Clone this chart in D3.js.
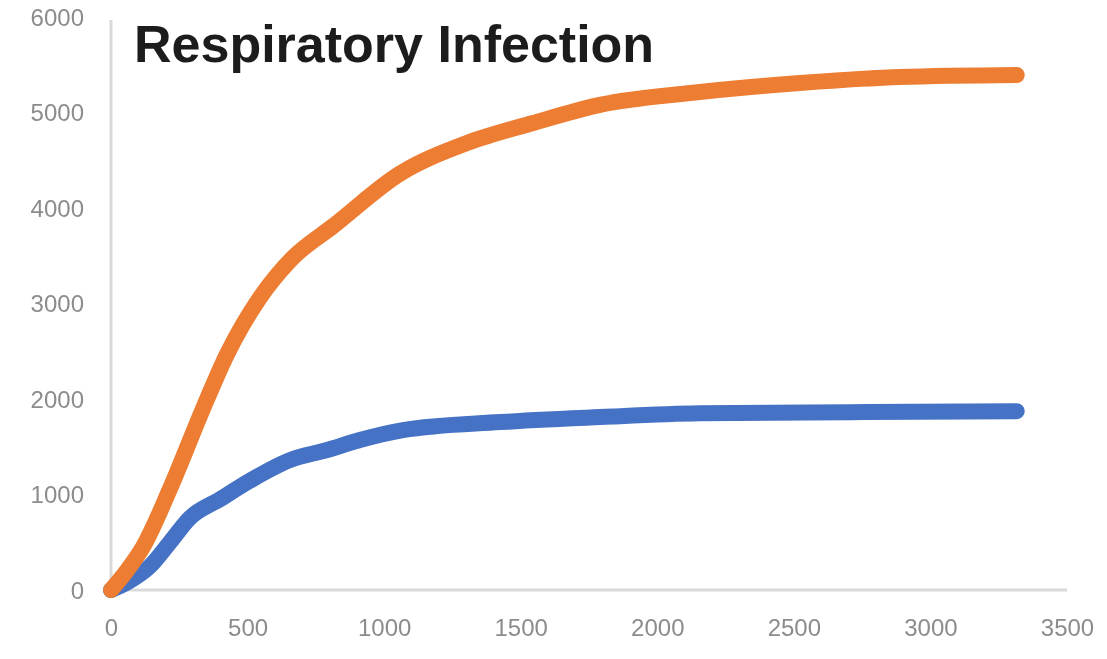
<!DOCTYPE html>
<html>
<head>
<meta charset="utf-8">
<script src="https://cdn.jsdelivr.net/npm/d3@7"></script>
<style>
  body { margin: 0; background: #ffffff; }
</style>
</head>
<body>
<div id="chart"></div>
<script>
// data
var title = "Respiratory Infection";

var orangeX = [0, 60, 117, 216, 337, 425, 545, 666, 813, 1058, 1303, 1545, 1790, 2156, 2522, 2888, 3316];
var orangeY = [0, 210, 450, 1060, 1900, 2470, 3060, 3480, 3810, 4360, 4680, 4890, 5080, 5214, 5308, 5371, 5392];

var blueX = [0, 60, 143, 216, 289, 399, 509, 655, 791, 911, 1069, 1424, 1790, 2156, 2705, 3316];
var blueY = [0, 80, 250, 500, 755, 950, 1145, 1360, 1466, 1571, 1675, 1759, 1811, 1850, 1862, 1872];

var xTicks = [0, 500, 1000, 1500, 2000, 2500, 3000, 3500];
var yTicks = [0, 1000, 2000, 3000, 4000, 5000, 6000];

var width = 1107, height = 659;

var svg = d3.select("#chart")
    .append("svg")
    .attr("width", width)
    .attr("height", height);

// the source picture is a little soft
svg.append("defs")
    .append("filter")
    .attr("id", "soft")
    .append("feGaussianBlur")
    .attr("stdDeviation", 0.7);

var g = svg.append("g").attr("filter", "url(#soft)");

var xScale = d3.scaleLinear()
    .domain([0, 3500])
    .range([111, 1067]);

var yScale = d3.scaleLinear()
    .domain([0, 6000])
    .range([590, 17]);

// axis lines
g.append("line")
    .attr("x1", xScale(0)).attr("x2", xScale(0))
    .attr("y1", 20).attr("y2", yScale(0))
    .attr("stroke", "#dadada")
    .attr("stroke-width", 3);

g.append("line")
    .attr("x1", xScale(0)).attr("x2", xScale(3500))
    .attr("y1", yScale(0)).attr("y2", yScale(0))
    .attr("stroke", "#dadada")
    .attr("stroke-width", 3);

// tick labels
var yAxis = d3.axisLeft(yScale).tickValues(yTicks).tickFormat(d3.format("d")).tickSize(0).tickPadding(0);
var xAxis = d3.axisBottom(xScale).tickValues(xTicks).tickFormat(d3.format("d")).tickSize(0).tickPadding(0);

var gy = g.append("g")
    .attr("transform", "translate(84,0)")
    .call(yAxis);
gy.select(".domain").remove();
gy.selectAll("text")
    .attr("font-family", "Liberation Sans, Arial, sans-serif")
    .attr("font-size", "24px")
    .attr("fill", "#8c8c8c")
    .attr("dy", "0.35em");

var gx = g.append("g")
    .attr("transform", "translate(0,628)")
    .call(xAxis);
gx.select(".domain").remove();
gx.selectAll("text")
    .attr("font-family", "Liberation Sans, Arial, sans-serif")
    .attr("font-size", "24px")
    .attr("fill", "#8c8c8c")
    .attr("dy", "0.35em");

// lines
var line = d3.line()
    .x(d => xScale(d[0]))
    .y(d => yScale(d[1]))
    .curve(d3.curveMonotoneX);

var blueData = blueX.map((x, i) => [x, blueY[i]]);
var orangeData = orangeX.map((x, i) => [x, orangeY[i]]);

g.append("path")
    .datum(blueData)
    .attr("d", line)
    .attr("fill", "none")
    .attr("stroke", "#4472c4")
    .attr("stroke-width", 16)
    .attr("stroke-linecap", "round")
    .attr("stroke-linejoin", "round");

g.append("path")
    .datum(orangeData)
    .attr("d", line)
    .attr("fill", "none")
    .attr("stroke", "#ed7d31")
    .attr("stroke-width", 16)
    .attr("stroke-linecap", "round")
    .attr("stroke-linejoin", "round");

// title
g.append("text")
    .attr("x", 134)
    .attr("y", 62)
    .attr("font-family", "Liberation Sans, Arial, sans-serif")
    .attr("font-weight", "bold")
    .attr("font-size", "52px")
    .attr("fill", "#1c1c1c")
    .text(title);
</script>
</body>
</html>
